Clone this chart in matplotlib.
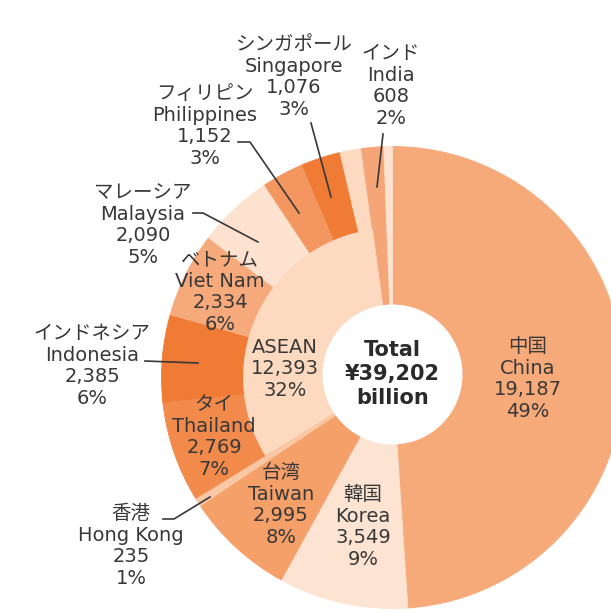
import matplotlib
matplotlib.use("Agg")
import matplotlib.pyplot as plt
from matplotlib.patches import Circle

plt.rcParams['font.family'] = ['DejaVu Sans', 'Noto Sans CJK JP']

# ---- data ----
total = 39202
asean_total = 12393
asean_pct = "32%"

names_jp = ["中国", "韓国", "台湾", "香港", "タイ", "インドネシア", "ベトナム",
            "マレーシア", "フィリピン", "シンガポール", "インド"]
names_en = ["China", "Korea", "Taiwan", "Hong Kong", "Thailand", "Indonesia",
            "Viet Nam", "Malaysia", "Philippines", "Singapore", "India"]
values = [19187, 3549, 2995, 235, 2769, 2385, 2334, 2090, 1152, 1076, 608]
pcts = ["49%", "9%", "8%", "1%", "7%", "6%", "6%", "5%", "3%", "3%", "2%"]
is_asean = [False, False, False, False, True, True, True, True, True, True, False]

colors = ["#F6AA7A", "#FDE3D2", "#F59F69", "#FAC7A4", "#F28A4B", "#F07B35",
          "#F6A97B", "#FDE2CF", "#F39660", "#F07B35", "#F5A678"]
asean_color = "#FDD9C0"
other_color = "#FDE2D0"

# outer ring order (clockwise from top), inserting "other ASEAN" and "other"
other_asean = asean_total - sum(v for v, a in zip(values, is_asean) if a)
other = total - sum(values) - other_asean
ring_vals = values[:10] + [other_asean] + values[10:] + [other]
ring_cols = colors[:10] + [asean_color] + colors[10:] + [other_color]

pre = sum(values[:4])
post = total - pre - asean_total

# ---- figure ----
W, H = 611, 612
fig = plt.figure(figsize=(W / 100, H / 100), dpi=100)
ax = fig.add_axes([0, 0, 1, 1])

def Y(y):
    return H - y

cx, cy = 392.5, Y(377.5)
w1, _ = ax.pie(ring_vals, colors=ring_cols, startangle=90, counterclock=False,
               radius=231, center=(cx, cy))
w2, _ = ax.pie([pre, asean_total, post], colors=['none', asean_color, 'none'],
               startangle=90, counterclock=False, radius=149, center=(cx, cy))
for w in list(w1) + [w2[1]]:
    w.set_edgecolor(w.get_facecolor())
    w.set_linewidth(0.6)
for w in (w2[0], w2[2]):
    w.set_visible(False)
ax.add_patch(Circle((392.5, Y(374.5)), 70, facecolor='white', edgecolor='none', zorder=5))

ax.set_xlim(0, W)
ax.set_ylim(0, H)
ax.set_aspect('equal')
ax.axis('off')

tc = "#383838"
fs = 14
ls = 1.17

def label(i, x, y):
    s = f"{names_jp[i]}\n{names_en[i]}\n{values[i]:,}\n{pcts[i]}"
    ax.text(x, Y(y), s, ha='center', va='center', multialignment='center',
            fontsize=fs, color=tc, linespacing=ls, zorder=6)

pos = {
    "China": (528, 379), "Korea": (363, 527), "Taiwan": (281, 505),
    "Hong Kong": (131, 546), "Thailand": (214, 437), "Indonesia": (92, 366),
    "Viet Nam": (220, 292), "Malaysia": (143, 225), "Philippines": (205, 126),
    "Singapore": (294, 77), "India": (391, 86),
}
for i, n in enumerate(names_en):
    label(i, *pos[n])

ax.text(285, Y(369), f"ASEAN\n{asean_total:,}\n{asean_pct}", ha='center', va='center',
        fontsize=fs, color=tc, linespacing=ls, zorder=6)
ax.text(392.5, Y(374), f"Total\n¥{total:,}\nbillion", ha='center', va='center',
        fontsize=15, fontweight='bold', color="#2a2a2a", linespacing=1.28, zorder=6)

leaders = {
    "Singapore": [(311, 123), (331, 197)],
    "India": [(383, 134), (377, 187)],
    "Philippines": [(238, 142), (250, 142), (299, 213)],
    "Malaysia": [(193, 213), (203, 213), (258, 242)],
    "Indonesia": [(145, 361), (198, 363)],
    "Hong Kong": [(163, 519), (174, 519), (210, 497)],
}
for pts in leaders.values():
    ax.plot([p[0] for p in pts], [Y(p[1]) for p in pts], color=tc, lw=1.2, zorder=7)

fig.savefig("out.png", dpi=100)
